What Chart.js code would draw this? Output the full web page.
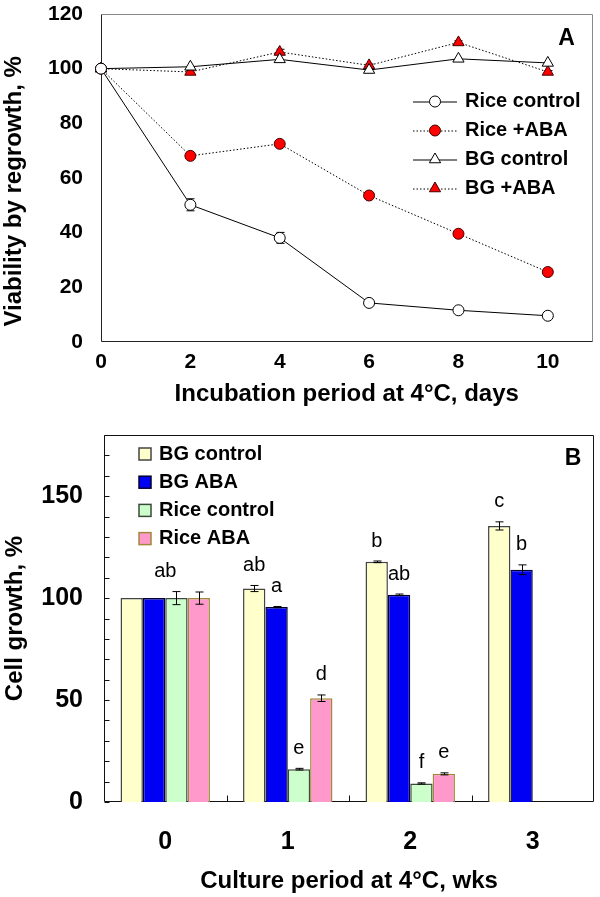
<!DOCTYPE html>
<html>
<head>
<meta charset="utf-8">
<script src="https://cdn.jsdelivr.net/npm/chart.js@4.4.1/dist/chart.umd.min.js"></script>
<style>
  html, body { margin: 0; padding: 0; background: #fff; }
  #wrapA { position: absolute; left: 0; top: 0; width: 600px; height: 420px; }
  #wrapB { position: absolute; left: 0; top: 420px; width: 600px; height: 477px; }
</style>
</head>
<body>
<div id="wrapA"><canvas id="chartA"></canvas></div>
<div id="wrapB"><canvas id="chartB"></canvas></div>
<script>
// Panel A - viability after cold incubation
const days = [0, 2, 4, 6, 8, 10];
const riceControl = [100, 50.2, 38.1, 14.3, 11.6, 9.6];
const riceControlErr = [0, 2.2, 2.0, 0.6, 0.5, 0.5];
const riceAba = [100, 68.1, 72.5, 53.6, 39.6, 25.6];
const bgControl = [100, 100.7, 103.4, 99.5, 103.6, 102.1];
const bgAba = [100, 98.8, 106.1, 101.2, 109.6, 98.8];
const bgAbaErr = [0, 0.5, 1.0, 0.5, 0.6, 0.5];
const yTicksA = [0, 20, 40, 60, 80, 100, 120];

// Panel B - cell growth
const weeks = ['0', '1', '2', '3'];
const bgCtrlB = [100, 104.7, 117.8, 135.4];
const bgCtrlBErr = [0, 1.5, 0.4, 2.0];
const bgAbaB = [100, 95.6, 101.6, 113.9];
const bgAbaBErr = [0, 0.3, 0.4, 2.4];
const riceCtrlB = [100, 16.1, 9.1, null];
const riceCtrlBErr = [3.2, 0.4, 0.3, null];
const riceAbaB = [100, 50.9, 13.8, null];
const riceAbaBErr = [3.0, 1.6, 0.5, null];
const yLabelsB = [0, 50, 100, 150];

// significance letters
const groupLetters = ['ab', '', '', ''];
const bgCtrlLetters = ['', 'ab', 'b', 'c'];
const bgAbaLetters = ['', 'a', 'ab', 'b'];
const riceCtrlLetters = ['', 'e', 'f', ''];
const riceAbaLetters = ['', 'd', 'e', ''];

Chart.defaults.font.family = "'Liberation Sans', Arial, Helvetica, sans-serif";
Chart.defaults.color = '#000';

const FONT = "'Liberation Sans', Arial, Helvetica, sans-serif";

function marker(ctx, style, r, x, y) {
    ctx.beginPath();
    if (style === 'triangle') {
        ctx.moveTo(x, y - r);
        ctx.lineTo(x + 0.866 * r, y + 0.5 * r);
        ctx.lineTo(x - 0.866 * r, y + 0.5 * r);
        ctx.closePath();
    } else {
        ctx.arc(x, y, r, 0, Math.PI * 2);
    }
    ctx.fill();
    ctx.stroke();
}

// keep label overhang from pushing the plot area around
function noPad(axis) {
    axis.paddingTop = 0;
    axis.paddingBottom = 0;
    axis.paddingLeft = 0;
    axis.paddingRight = 0;
}

// plot box + inner tick marks
const framePlugin = {
    id: 'frame',
    beforeDatasetsDraw(chart, args, o) {
        const ctx = chart.ctx;
        const a = chart.chartArea;
        const l = Math.round(a.left) + 0.5, r = Math.round(a.right) - 0.5;
        const t = Math.round(a.top) + 0.5, b = Math.round(a.bottom) - 0.5;
        ctx.save();
        ctx.lineWidth = 1;
        ctx.strokeStyle = o.far;
        ctx.beginPath();
        ctx.moveTo(l, t); ctx.lineTo(r, t); ctx.lineTo(r, b);
        ctx.stroke();
        ctx.strokeStyle = o.near;
        ctx.beginPath();
        ctx.moveTo(l, t); ctx.lineTo(l, b); ctx.lineTo(r, b);
        ctx.stroke();
        if (o.innerTicks) {
            const ys = chart.scales.y;
            ys.ticks.forEach(tk => {
                const py = Math.round(ys.getPixelForValue(tk.value)) + 0.5;
                ctx.beginPath(); ctx.moveTo(l, py); ctx.lineTo(l + 5, py); ctx.stroke();
            });
            const xs = chart.scales.x;
            for (let i = 1; i < xs.ticks.length; i++) {
                const px = Math.round((xs.getPixelForTick(i - 1) + xs.getPixelForTick(i)) / 2) + 0.5;
                ctx.beginPath(); ctx.moveTo(px, b); ctx.lineTo(px, b - 6); ctx.stroke();
            }
        }
        ctx.restore();
    }
};

function drawErrors(chart, o) {
    const ctx = chart.ctx;
    const ys = chart.scales.y;
    ctx.save();
    ctx.strokeStyle = '#000';
    ctx.lineWidth = 1;
    chart.data.datasets.forEach((ds, di) => {
        if (!ds.errorBars) return;
        const meta = chart.getDatasetMeta(di);
        meta.data.forEach((el, i) => {
            const e = ds.errorBars[i];
            const raw = ds.data[i];
            const v = (raw && typeof raw === 'object') ? raw.y : raw;
            if (!e || v == null) return;
            const x = Math.round(el.x) + 0.5;
            const y1 = ys.getPixelForValue(v + e), y2 = ys.getPixelForValue(v - e);
            ctx.beginPath();
            ctx.moveTo(x, y1); ctx.lineTo(x, y2);
            ctx.moveTo(x - o.cap, y1); ctx.lineTo(x + o.cap, y1);
            ctx.moveTo(x - o.cap, y2); ctx.lineTo(x + o.cap, y2);
            ctx.stroke();
        });
    });
    ctx.restore();
}

const errorPlugin = {
    id: 'errors',
    beforeDatasetsDraw(chart, args, o) { if (o.under) drawErrors(chart, o); },
    afterDatasetsDraw(chart, args, o) { if (!o.under) drawErrors(chart, o); }
};

// legend drawn inside the plot
const innerLegend = {
    id: 'innerLegend',
    afterDraw(chart, args, o) {
        const ctx = chart.ctx;
        const a = chart.chartArea;
        ctx.save();
        ctx.font = 'bold ' + o.size + 'px ' + FONT;
        ctx.textBaseline = 'middle';
        ctx.textAlign = 'left';
        chart.data.datasets.forEach((ds, i) => {
            const y = a.top + o.top + i * o.row;
            const x = a.left + o.left;
            if (o.kind === 'box') {
                ctx.fillStyle = ds.backgroundColor;
                ctx.fillRect(x, y - 6, 12, 12);
                ctx.strokeStyle = ds.borderColor;
                ctx.lineWidth = 1.5;
                ctx.strokeRect(x, y - 6, 12, 12);
            } else {
                ctx.strokeStyle = ds.borderColor;
                ctx.lineWidth = ds.borderWidth;
                ctx.setLineDash(ds.borderDash || []);
                ctx.beginPath();
                ctx.moveTo(x, y + 0.5); ctx.lineTo(x + o.lineLen, y + 0.5);
                ctx.stroke();
                ctx.setLineDash([]);
                ctx.fillStyle = ds.pointBackgroundColor;
                ctx.strokeStyle = ds.pointBorderColor;
                ctx.lineWidth = 1;
                marker(ctx, ds.pointStyle, ds.pointRadius, x + o.lineLen / 2, y);
            }
            ctx.fillStyle = '#000';
            ctx.fillText(ds.label, a.left + o.textLeft, y);
        });
        ctx.restore();
    }
};

const panelTag = {
    id: 'panelTag',
    afterDraw(chart, args, o) {
        const ctx = chart.ctx;
        const a = chart.chartArea;
        ctx.save();
        ctx.font = 'bold 23px ' + FONT;
        ctx.fillStyle = '#000';
        ctx.textAlign = 'center';
        ctx.textBaseline = 'middle';
        ctx.fillText(o.text, a.right - o.dx, a.top + o.dy);
        ctx.restore();
    }
};

// letters above bars
const letterPlugin = {
    id: 'letters',
    afterDatasetsDraw(chart, args, o) {
        if (!o.show) return;
        const ctx = chart.ctx;
        const ys = chart.scales.y, xs = chart.scales.x;
        ctx.save();
        ctx.font = '20px ' + FONT;
        ctx.fillStyle = '#000';
        ctx.textAlign = 'center';
        ctx.textBaseline = 'middle';
        const sets = chart.data.datasets;
        sets.forEach((ds, di) => {
            const meta = chart.getDatasetMeta(di);
            meta.data.forEach((el, i) => {
                const t = ds.letters[i];
                if (!t || ds.data[i] == null) return;
                const top = ds.data[i] + (ds.errorBars[i] || 0);
                ctx.fillText(t, el.x, ys.getPixelForValue(top) - o.gap);
            });
        });
        groupLetters.forEach((t, i) => {
            if (!t) return;
            let top = 0;
            sets.forEach(ds => {
                if (ds.data[i] != null) top = Math.max(top, ds.data[i] + (ds.errorBars[i] || 0));
            });
            ctx.fillText(t, xs.getPixelForTick(i), ys.getPixelForValue(top) - o.gap);
        });
        ctx.restore();
    }
};

// ---------- Chart A ----------
const ctxA = document.getElementById('chartA').getContext('2d');
new Chart(ctxA, {
    type: 'line',
    data: {
        datasets: [{
            label: 'Rice control',
            data: days.map((d, i) => ({ x: d, y: riceControl[i] })),
            errorBars: riceControlErr,
            borderColor: '#000',
            borderWidth: 1,
            pointStyle: 'circle',
            pointRadius: 5.5,
            pointBackgroundColor: '#fff',
            pointBorderColor: '#000'
        }, {
            label: 'Rice +ABA',
            data: days.map((d, i) => ({ x: d, y: riceAba[i] })),
            borderColor: '#000',
            borderWidth: 1,
            borderDash: [1.5, 2],
            pointStyle: 'circle',
            pointRadius: 5.5,
            pointBackgroundColor: '#ff0000',
            pointBorderColor: '#400'
        }, {
            label: 'BG control',
            data: days.map((d, i) => ({ x: d, y: bgControl[i] })),
            borderColor: '#000',
            borderWidth: 1,
            pointStyle: 'triangle',
            pointRadius: 6.5,
            pointBackgroundColor: '#fff',
            pointBorderColor: '#000'
        }, {
            label: 'BG +ABA',
            data: days.map((d, i) => ({ x: d, y: bgAba[i] })),
            errorBars: bgAbaErr,
            borderColor: '#000',
            borderWidth: 1,
            borderDash: [1.5, 2],
            pointStyle: 'triangle',
            pointRadius: 6.5,
            pointBackgroundColor: '#ff0000',
            pointBorderColor: '#400'
        }]
    },
    plugins: [framePlugin, errorPlugin, innerLegend, panelTag],
    options: {
        responsive: true,
        maintainAspectRatio: false,
        animation: false,
        layout: { padding: { top: 14, right: 1, left: 0, bottom: 0 } },
        datasets: { line: { clip: false, pointBorderWidth: 1, tension: 0 } },
        plugins: {
            legend: { display: false },
            tooltip: { enabled: false },
            frame: { near: '#222', far: '#888' },
            errors: { under: true, cap: 4 },
            innerLegend: { kind: 'line', size: 20, left: 312, top: 87.5, row: 29, lineLen: 44, textLeft: 364 },
            panelTag: { text: 'A', dx: 26, dy: 25 }
        },
        scales: {
            x: {
                type: 'linear',
                min: 0,
                max: 11,
                afterBuildTicks: axis => { axis.ticks = days.map(v => ({ value: v })); },
                grid: { display: false, drawTicks: false },
                border: { display: false },
                ticks: { font: { size: 21, weight: 'bold' }, padding: 8, maxRotation: 0 },
                title: {
                    display: true,
                    text: 'Incubation period at 4°C, days',
                    font: { size: 24, weight: 'bold' },
                    padding: { top: 0, bottom: 11 }
                },
                afterFit: axis => { axis.height = 78; noPad(axis); }
            },
            y: {
                min: 0,
                max: 120,
                afterBuildTicks: axis => { axis.ticks = yTicksA.map(v => ({ value: v })); },
                grid: { display: false, drawTicks: false },
                border: { display: false },
                ticks: { font: { size: 21, weight: 'bold' }, padding: 18 },
                title: {
                    display: true,
                    // trailing spaces nudge the title down, as in the original
                    text: 'Viability by regrowth, %    ',
                    font: { size: 24, weight: 'bold' },
                    padding: { top: 0, bottom: 0 }
                },
                afterFit: axis => { axis.width = 101; noPad(axis); }
            }
        }
    }
});

// ---------- Chart B ----------
const ctxB = document.getElementById('chartB').getContext('2d');
new Chart(ctxB, {
    type: 'bar',
    data: {
        labels: weeks,
        datasets: [{
            label: 'BG control',
            data: bgCtrlB,
            errorBars: bgCtrlBErr,
            letters: bgCtrlLetters,
            backgroundColor: '#ffffcc',
            borderColor: '#444',
            borderWidth: 1.5
        }, {
            label: 'BG ABA',
            data: bgAbaB,
            errorBars: bgAbaBErr,
            letters: bgAbaLetters,
            backgroundColor: '#0000f5',
            borderColor: '#000033',
            borderWidth: 1.5
        }, {
            label: 'Rice control',
            data: riceCtrlB,
            errorBars: riceCtrlBErr,
            letters: riceCtrlLetters,
            backgroundColor: '#ccffcc',
            borderColor: '#3a4a3a',
            borderWidth: 1.5
        }, {
            label: 'Rice ABA',
            data: riceAbaB,
            errorBars: riceAbaBErr,
            letters: riceAbaLetters,
            backgroundColor: '#ff99cc',
            borderColor: '#a08a3a',
            borderWidth: 1.5
        }]
    },
    plugins: [framePlugin, errorPlugin, letterPlugin, innerLegend, panelTag],
    options: {
        responsive: true,
        maintainAspectRatio: false,
        animation: false,
        layout: { padding: { top: 15, right: 6, left: 0, bottom: 0 } },
        datasets: { bar: { categoryPercentage: 0.73, barPercentage: 1 } },
        plugins: {
            legend: { display: false },
            tooltip: { enabled: false },
            frame: { near: '#111', far: '#111', innerTicks: true },
            errors: { under: false, cap: 4 },
            letters: { show: true, gap: 20 },
            innerLegend: { kind: 'box', size: 20, left: 35, top: 19, row: 28.2, textLeft: 55 },
            panelTag: { text: 'B', dx: 21, dy: 24 }
        },
        scales: {
            x: {
                grid: { display: false, drawTicks: false },
                border: { display: false },
                ticks: { font: { size: 25, weight: 'bold' }, padding: 25, maxRotation: 0 },
                title: {
                    display: true,
                    text: 'Culture period at 4°C, wks',
                    font: { size: 24, weight: 'bold' },
                    padding: { top: 0, bottom: 1 }
                },
                afterFit: axis => { axis.height = 95; noPad(axis); }
            },
            y: {
                min: 0,
                max: 180,
                grid: { display: false, drawTicks: false },
                border: { display: false },
                ticks: {
                    stepSize: 10,
                    autoSkip: false,
                    font: { size: 25, weight: 'bold' },
                    padding: 21,
                    callback: v => yLabelsB.includes(v) ? v : ''
                },
                title: {
                    display: true,
                    text: 'Cell growth, %',
                    font: { size: 24, weight: 'bold' },
                    padding: { top: 1, bottom: 0 }
                },
                afterFit: axis => { axis.width = 104; noPad(axis); }
            }
        }
    }
});
</script>
</body>
</html>
